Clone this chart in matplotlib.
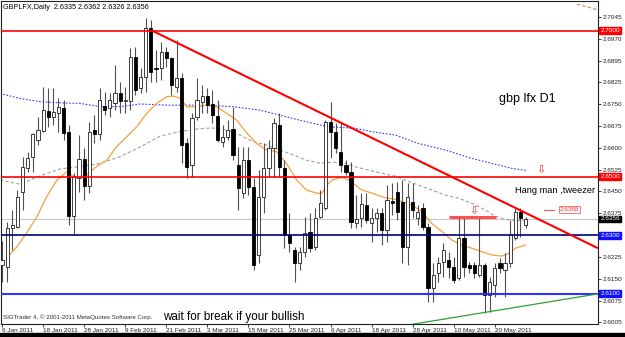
import numpy as np
import matplotlib.pyplot as plt
from matplotlib.patches import Rectangle

plt.switch_backend('Agg')

# daily candles, bar 0 = 6 Jan 2011 (FX days, Sunday bars skipped)
opens = [2.6199, 2.6193, 2.6326, 2.6330, 2.6449, 2.6529, 2.6568, 2.6626, 2.6657, 2.6726,
         2.6705, 2.6717, 2.6734, 2.6654, 2.6366, 2.6495, 2.6561, 2.6469, 2.6660, 2.6646,
         2.6742, 2.6735, 2.6752, 2.6786, 2.6759, 2.6760, 2.6910, 2.6802, 2.6842, 2.7008,
         2.6873, 2.6871, 2.6927, 2.6905, 2.6808, 2.6837, 2.6616, 2.6540, 2.6705, 2.6757,
         2.6776, 2.6749, 2.6708, 2.6620, 2.6637, 2.6663, 2.6540, 2.6444, 2.6557, 2.6466,
         2.6233, 2.6432, 2.6529, 2.6598, 2.6677, 2.6529, 2.6301, 2.6250, 2.6205, 2.6244,
         2.6313, 2.6261, 2.6364, 2.6392, 2.6688, 2.6654, 2.6586, 2.6540, 2.6518, 2.6343,
         2.6358, 2.6404, 2.6341, 2.6358, 2.6377, 2.6318, 2.6418, 2.6448, 2.6414, 2.6260,
         2.6414, 2.6359, 2.6394, 2.6329, 2.6120, 2.6171, 2.6209, 2.6216, 2.6192, 2.6154,
         2.6291, 2.6199, 2.6199, 2.6165, 2.6199, 2.6096, 2.6130, 2.6206, 2.6182, 2.6206,
         2.6291, 2.6380, 2.6335]
highs = [2.6282, 2.6347, 2.6387, 2.6455, 2.6569, 2.6586, 2.6650, 2.6705, 2.6808, 2.6803,
         2.6803, 2.6769, 2.6762, 2.6677, 2.6512, 2.6643, 2.6597, 2.6688, 2.6711, 2.6803,
         2.6790, 2.6786, 2.6882, 2.6825, 2.6808, 2.6940, 2.6945, 2.6872, 2.7043, 2.7036,
         2.6933, 2.6962, 2.6945, 2.6910, 2.6967, 2.6855, 2.6633, 2.6718, 2.6838, 2.6814,
         2.6803, 2.6797, 2.6762, 2.6677, 2.6694, 2.6740, 2.6603, 2.6603, 2.6603, 2.6495,
         2.6523, 2.6616, 2.6626, 2.6701, 2.6718, 2.6557, 2.6377, 2.6261, 2.6261, 2.6364,
         2.6377, 2.6394, 2.6455, 2.6694, 2.6757, 2.6684, 2.6684, 2.6557, 2.6552, 2.6438,
         2.6444, 2.6444, 2.6392, 2.6392, 2.6392, 2.6472, 2.6478, 2.6482, 2.6489, 2.6479,
         2.6479, 2.6404, 2.6411, 2.6342, 2.6206, 2.6226, 2.6274, 2.6243, 2.6226, 2.6363,
         2.6363, 2.6209, 2.6209, 2.6359, 2.6206, 2.6158, 2.6206, 2.6223, 2.6240, 2.6352,
         2.6394, 2.6394, 2.6362]
lows = [2.6142, 2.6142, 2.6250, 2.6325, 2.6387, 2.6518, 2.6518, 2.6609, 2.6654, 2.6670,
        2.6677, 2.6654, 2.6626, 2.6335, 2.6301, 2.6449, 2.6421, 2.6444, 2.6615, 2.6626,
        2.6711, 2.6704, 2.6728, 2.6718, 2.6718, 2.6728, 2.6780, 2.6786, 2.6791, 2.6825,
        2.6825, 2.6831, 2.6876, 2.6780, 2.6791, 2.6547, 2.6496, 2.6500, 2.6694, 2.6718,
        2.6718, 2.6684, 2.6620, 2.6603, 2.6626, 2.6557, 2.6387, 2.6428, 2.6438, 2.6182,
        2.6206, 2.6377, 2.6500, 2.6500, 2.6500, 2.6257, 2.6244, 2.6142, 2.6182, 2.6227,
        2.6244, 2.6250, 2.6358, 2.6387, 2.6563, 2.6580, 2.6518, 2.6506, 2.6324, 2.6324,
        2.6330, 2.6341, 2.6278, 2.6313, 2.6267, 2.6278, 2.6370, 2.6352, 2.6206, 2.6199,
        2.6359, 2.6335, 2.6318, 2.6072, 2.6072, 2.6141, 2.6158, 2.6154, 2.6137, 2.6148,
        2.6158, 2.6171, 2.6154, 2.6158, 2.6035, 2.6038, 2.6089, 2.6171, 2.6089, 2.6192,
        2.6284, 2.6294, 2.6326]
closes = [2.6216, 2.6326, 2.6335, 2.6432, 2.6535, 2.6565, 2.6646, 2.6660, 2.6728, 2.6705,
          2.6722, 2.6740, 2.6651, 2.6366, 2.6498, 2.6560, 2.6469, 2.6654, 2.6646, 2.6762,
          2.6728, 2.6762, 2.6786, 2.6760, 2.6762, 2.6910, 2.6797, 2.6842, 2.7008, 2.6859,
          2.6868, 2.6927, 2.6905, 2.6814, 2.6837, 2.6609, 2.6535, 2.6701, 2.6762, 2.6776,
          2.6745, 2.6711, 2.6626, 2.6637, 2.6660, 2.6575, 2.6461, 2.6557, 2.6466, 2.6199,
          2.6432, 2.6529, 2.6597, 2.6684, 2.6535, 2.6301, 2.6273, 2.6205, 2.6244, 2.6309,
          2.6256, 2.6358, 2.6409, 2.6688, 2.6654, 2.6597, 2.6540, 2.6518, 2.6347, 2.6355,
          2.6407, 2.6352, 2.6358, 2.6375, 2.6318, 2.6421, 2.6409, 2.6380, 2.6260, 2.6431,
          2.6387, 2.6380, 2.6329, 2.6120, 2.6165, 2.6206, 2.6250, 2.6192, 2.6148, 2.6291,
          2.6192, 2.6189, 2.6171, 2.6199, 2.6096, 2.6141, 2.6189, 2.6189, 2.6206, 2.6301,
          2.6380, 2.6359, 2.6356]

date_labels = ['6 Jan 2011', '18 Jan 2011', '28 Jan 2011', '9 Feb 2011', '21 Feb 2011',
               '3 Mar 2011', '15 Mar 2011', '25 Mar 2011', '6 Apr 2011', '18 Apr 2011',
               '28 Apr 2011', '10 May 2011', '20 May 2011']
bars_per_label = 8

# moving averages (bar index, price)
ma_fast_x = [0.9, 2.9, 4.8, 6.8, 8.7, 10.7, 12.6, 14.5, 16.5, 18.4, 20.4, 22.3, 24.3, 26.2,
             28.2, 30.1, 32.1, 33.4, 34.7, 36.0, 37.9, 39.9, 41.8, 43.8, 45.7, 47.7, 49.6,
             51.5, 53.5, 55.4, 57.4, 59.3, 61.3, 62.3, 63.3, 64.3, 66.2, 67.5, 68.8, 70.1,
             72.1, 74.6, 76.6, 77.9, 79.8, 81.8, 83.7, 85.7, 87.6, 89.6, 91.5, 93.5, 95.4,
             97.4, 98.7, 100.0, 102.0]
ma_fast_y = [2.6223, 2.6261, 2.6308, 2.6364, 2.6432, 2.6489, 2.6517, 2.6496, 2.6506, 2.6535,
             2.6557, 2.6603, 2.6637, 2.6671, 2.6717, 2.6751, 2.6774, 2.6776, 2.6769, 2.6739,
             2.6739, 2.6745, 2.6739, 2.6717, 2.6694, 2.6649, 2.6614, 2.6592, 2.6586, 2.6546,
             2.6489, 2.6455, 2.6444, 2.6444, 2.6472, 2.6489, 2.6498, 2.6489, 2.6472, 2.6455,
             2.6444, 2.6429, 2.6423, 2.6415, 2.6404, 2.6381, 2.6341, 2.6313, 2.6284, 2.6267,
             2.6256, 2.6244, 2.6233, 2.6229, 2.6239, 2.6256, 2.6267]

ma_mid_x = [-0.4, 3.5, 7.4, 11.3, 15.2, 19.1, 23.0, 26.9, 30.8, 34.7, 38.6, 41.1, 43.8, 46.3,
            48.9, 51.5, 54.1, 56.7, 59.3, 61.9, 66.2, 68.7, 71.4, 74.0, 76.5, 78.5, 81.1,
            83.7, 86.3, 88.9, 91.5, 94.1, 96.0, 97.9, 99.3, 102.0]
ma_mid_y = [2.6489, 2.6475, 2.6503, 2.6527, 2.6535, 2.6546, 2.6569, 2.6602, 2.6639, 2.6655,
            2.6665, 2.6667, 2.6660, 2.6643, 2.6620, 2.6609, 2.6592, 2.6575, 2.6557, 2.6547,
            2.6551, 2.6535, 2.6523, 2.6512, 2.6503, 2.6489, 2.6472, 2.6455, 2.6438, 2.6427,
            2.6410, 2.6387, 2.6366, 2.6355, 2.6352, 2.6350]

ma_slow_x = [-0.4, 3.5, 7.4, 11.3, 15.2, 19.1, 23.0, 26.9, 32.1, 38.6, 45.0, 50.2, 55.4,
             59.3, 63.6, 68.8, 72.1, 76.6, 81.1, 86.3, 91.5, 95.4, 99.3, 102.0]
ma_slow_y = [2.6785, 2.6768, 2.6757, 2.6753, 2.6751, 2.6740, 2.6740, 2.6749, 2.6745, 2.6745,
             2.6740, 2.6728, 2.6705, 2.6688, 2.6671, 2.6666, 2.6654, 2.6643, 2.6614, 2.6592,
             2.6563, 2.6546, 2.6529, 2.6522]

shifted_x = [112.0, 113.5, 115.0, 116.1]
shifted_y = [2.7090, 2.7083, 2.7076, 2.7070]

# drawn objects
hlines_red = [2.7000, 2.6500]
support_1 = 2.6300
support_2 = 2.6100
trend_x = [29.2, 116.1]
trend_y = [2.7000, 2.6256]
green_x = [79.9, 116.1]
green_y = [2.5996, 2.6100]
double_top = 2.6363
double_top_x = [87.0, 96.2]
arrows = [(91.9, 2.6385), (105.0, 2.6523)]
yticks = [2.7045, 2.6970, 2.6895, 2.6825, 2.6750, 2.6675, 2.6600, 2.6525, 2.6450,
          2.6375, 2.6300, 2.6225, 2.6150, 2.6075, 2.6005]

label_font = ['Liberation Sans', 'DejaVu Sans']

fig = plt.figure(figsize=(6.25, 3.37), dpi=100)
ax = fig.add_axes([1 / 625, 13 / 337, 597 / 625, 323 / 337])
ax.set_xlim(-0.2, 116.1)
ax.set_ylim(2.5997, 2.7101)

# indicator lines
ax.plot(ma_slow_x, ma_slow_y, color='#3a3aff', lw=0.8, ls=(0, (1.5, 1.5)), zorder=1)
ax.plot(ma_mid_x, ma_mid_y, color='#a0a0a0', lw=0.8, ls=(0, (3, 2)), zorder=1)
ax.plot(ma_fast_x, ma_fast_y, color='#f5a040', lw=0.9, zorder=1)
ax.plot(shifted_x, shifted_y, color='#d09020', lw=0.8, ls=(0, (3, 2)), zorder=1)

last = closes[-1]
ax.axhline(last, color='#c8c8c8', lw=0.8, zorder=0.5)

# candles
idx = np.arange(len(opens))
o = np.array(opens)
c = np.array(closes)
ax.vlines(idx, lows, highs, color='#505050', lw=0.8, zorder=2)
up = c >= o
body_lo = np.minimum(o, c)
body_h = np.maximum(np.abs(c - o), 0.00012)
ax.bar(idx[up], body_h[up], bottom=body_lo[up], width=0.62, color='white',
       edgecolor='#202020', lw=0.6, zorder=3)
ax.bar(idx[~up], body_h[~up], bottom=body_lo[~up], width=0.62, color='black',
       edgecolor='black', lw=0.6, zorder=3)

# horizontal levels and trend lines
for lvl in hlines_red:
    ax.axhline(lvl, color='#ff0000', lw=1.2, zorder=4)
ax.axhline(support_1, color='#000080', lw=1.2, zorder=4)
ax.axhline(support_2, color='#3030ff', lw=1.5, zorder=4)
ax.plot(trend_x, trend_y, color='#ff0000', lw=1.5, zorder=4, solid_capstyle='butt')
ax.plot(green_x, green_y, color='#30a030', lw=0.9, zorder=4)
ax.plot(double_top_x, [double_top, double_top], color='#ff5050', lw=2.2, zorder=4,
        solid_capstyle='butt')
for ax_x, ax_y in arrows:
    ax.text(ax_x, ax_y, '\u21e9', color='#ff2020', fontsize=8, ha='center', va='center',
            family='DejaVu Sans', zorder=5)

# price scale on the right (level tags replace the 2.6300 figure)
tagged = {support_1}
ax.yaxis.tick_right()
ax.set_yticks(yticks)
ax.set_yticklabels(['' if v in tagged else f'{v:.4f}' for v in yticks],
                   family=label_font, fontsize=4.6)
ax.tick_params(axis='y', length=2, width=0.6, pad=1.5, colors='#202020')

ticks = list(range(0, len(opens), bars_per_label))[:len(date_labels)]
ax.set_xticks(ticks)
ax.set_xticklabels(date_labels, family=label_font, fontsize=4.6, ha='left')
ax.tick_params(axis='x', length=2, width=0.6, pad=0.8, colors='#202020')

for sp in ax.spines.values():
    sp.set_linewidth(0.8)
    sp.set_color('#202020')

level_tags = [(2.7000, '#ff0000'), (2.6500, '#ff0000'), (last, '#000000'),
              (support_1, '#1010ff'), (support_2, '#1010ff')]
for val, col in level_tags:
    ax.text(1.004, val, f'{val:.4f}', transform=ax.get_yaxis_transform(),
            color='white', fontsize=4.6, family=label_font, va='center', ha='left',
            bbox=dict(boxstyle='square,pad=0.15', fc=col, ec=col), zorder=6,
            clip_on=False)

# annotations
ax.text(0.004, 0.992, 'GBPLFX,Daily  2.6335 2.6362 2.6326 2.6356', transform=ax.transAxes,
        fontsize=5.2, family=label_font, va='top', ha='left', color='black')
ax.text(0.004, 0.012, 'SIGTrader 4, \u00a9 2001-2011 MetaQuotes Software Corp.',
        transform=ax.transAxes, fontsize=4.4, family=label_font, va='bottom', ha='left',
        color='#303030')
ax.text(96.8, 2.6765, 'gbp lfx D1', fontsize=9, family=label_font, va='center', ha='left')
ax.text(99.9, 2.6455, 'Hang man ,tweezer', fontsize=6.7, family=label_font, va='center',
        ha='left')
ax.text(108.6, 2.6388, '2.6388', fontsize=4.6, family=label_font, color='#ff3030',
        va='center', ha='left',
        bbox=dict(boxstyle='square,pad=0.15', fc='white', ec='#ff6060', lw=0.6))
ax.plot([105.6, 107.6], [2.6386, 2.6386], color='#ff5050', lw=0.8)
ax.text(31.3, 2.6021, 'wait for break if your bullish', fontsize=8.4, family=label_font,
        va='center', ha='left')

fig.patches.append(Rectangle((0, 0), 1, 4 / 337, transform=fig.transFigure,
                             color='black', zorder=10))

fig.savefig('out.png', dpi=100)
